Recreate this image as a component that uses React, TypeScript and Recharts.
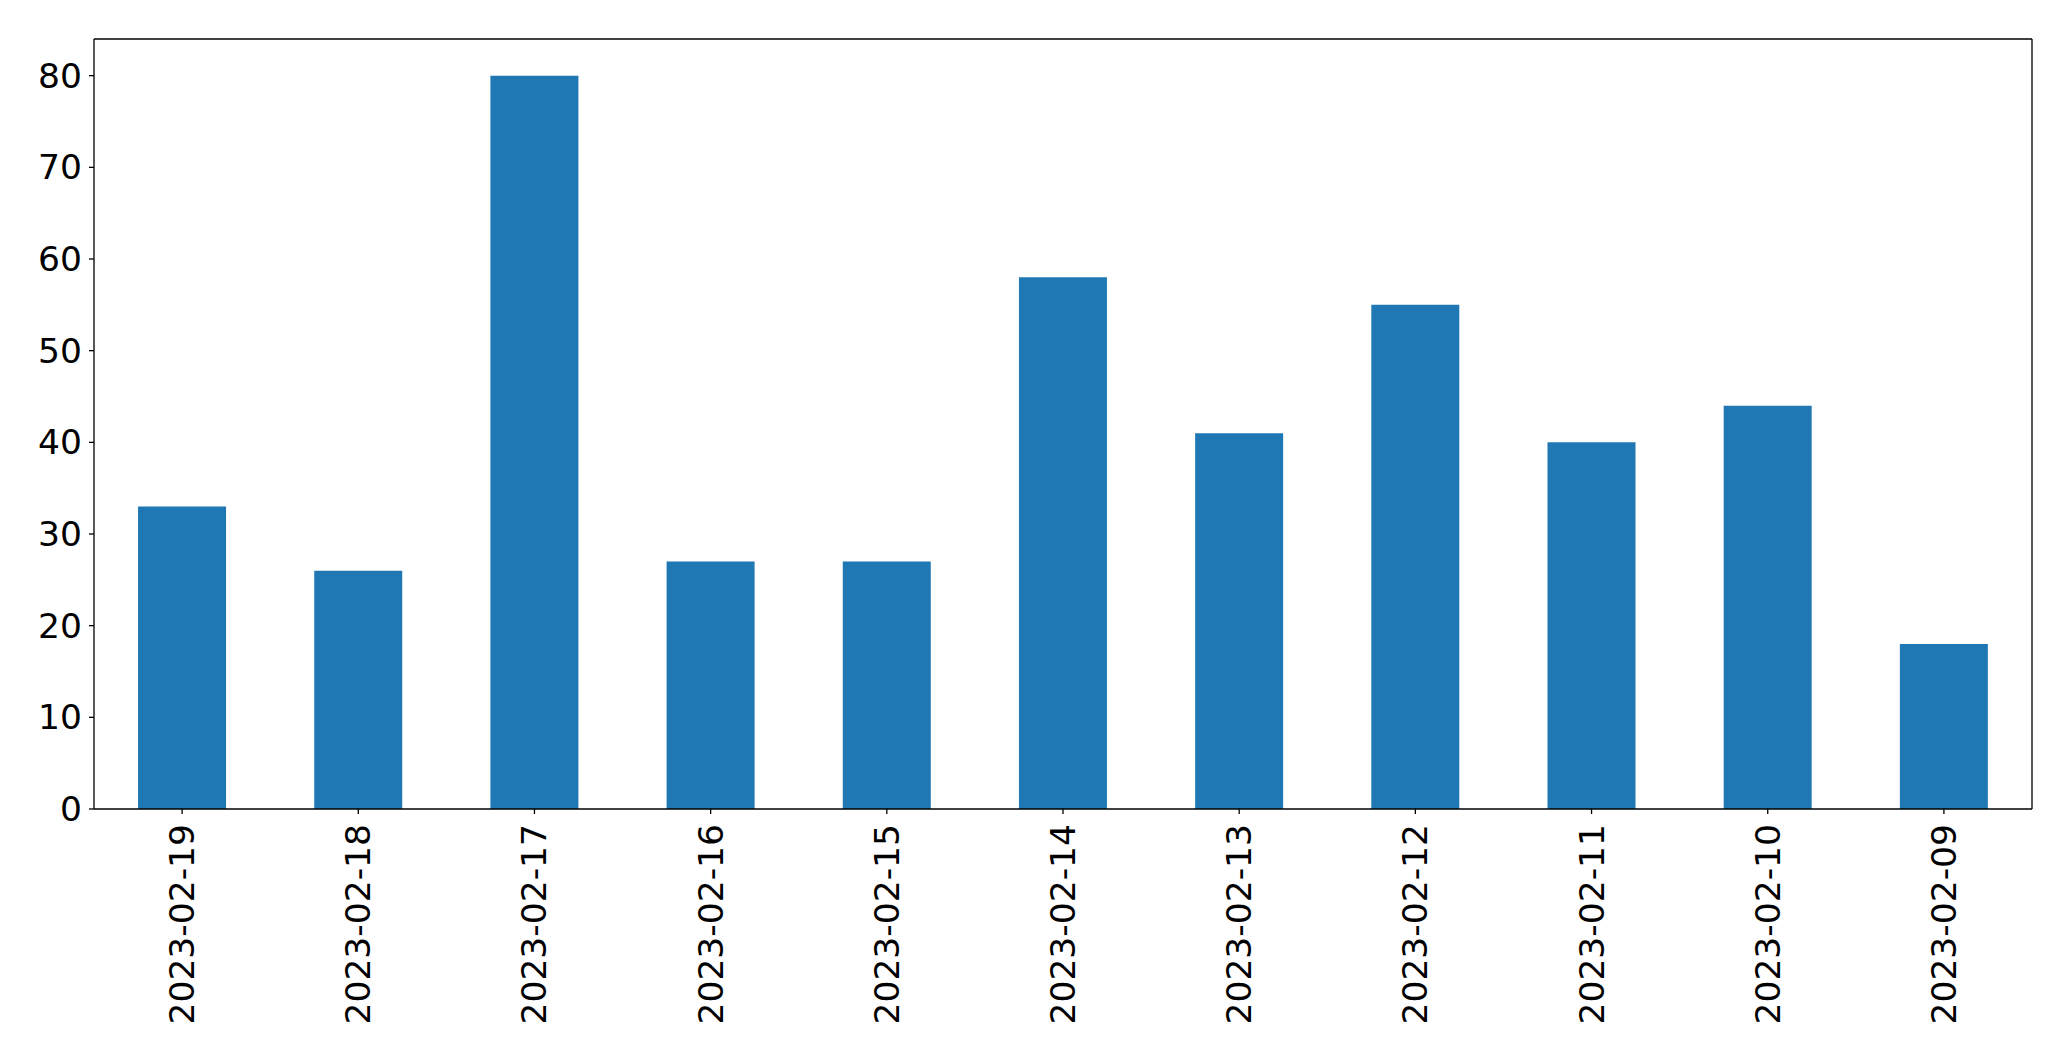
import { Bar, BarChart, XAxis, YAxis } from 'recharts';

const dates = [
  '2023-02-19',
  '2023-02-18',
  '2023-02-17',
  '2023-02-16',
  '2023-02-15',
  '2023-02-14',
  '2023-02-13',
  '2023-02-12',
  '2023-02-11',
  '2023-02-10',
  '2023-02-09',
];
const counts = [33, 26, 80, 27, 27, 58, 41, 55, 40, 44, 18];
const yTicks = [0, 10, 20, 30, 40, 50, 60, 70, 80];

const data = dates.map((date, i) => ({ date, count: counts[i] }));

const FONT = '"DejaVu Sans", sans-serif';
const FONT_SIZE = 34.5;
const frame = { stroke: '#000', strokeWidth: 1.3 };

function XTick({ x, y, payload }: any) {
  return (
    <g>
      <line x1={x} y1={y - 8} x2={x} y2={y - 3} stroke="#000" strokeWidth={1.3} />
      <text
        x={x}
        y={y + 7}
        transform={`rotate(-90, ${x}, ${y + 7})`}
        textAnchor="end"
        dominantBaseline="central"
        fontFamily={FONT}
        fontSize={FONT_SIZE}
        fill="#000"
      >
        {payload.value}
      </text>
    </g>
  );
}

function YTick({ x, y, payload }: any) {
  return (
    <g>
      <line x1={x + 3} y1={y} x2={x + 8} y2={y} stroke="#000" strokeWidth={1.3} />
      <text
        x={x - 4}
        y={y}
        textAnchor="end"
        dominantBaseline="central"
        fontFamily={FONT}
        fontSize={FONT_SIZE}
        fill="#000"
      >
        {payload.value}
      </text>
    </g>
  );
}

export default function App() {
  return (
    <div style={{ position: 'absolute', left: 0, top: 0, background: '#fff' }}>
      <BarChart
        width={2071}
        height={1061}
        data={data}
        margin={{ top: 38, right: 38, bottom: 0, left: 0 }}
        barCategoryGap="25%"
      >
        <XAxis
          dataKey="date"
          interval={0}
          height={252}
          axisLine={frame}
          tickLine={false}
          tick={<XTick />}
        />
        <XAxis xAxisId="top" dataKey="date" orientation="top" height={1} tick={false} tickLine={false} axisLine={frame} />
        <YAxis
          domain={[0, 84]}
          ticks={yTicks}
          width={94}
          axisLine={frame}
          tickLine={false}
          tick={<YTick />}
        />
        <YAxis yAxisId="right" orientation="right" width={1} domain={[0, 84]} tick={false} tickLine={false} axisLine={frame} />
        <Bar dataKey="count" fill="#1f77b4" isAnimationActive={false} />
      </BarChart>
    </div>
  );
}
